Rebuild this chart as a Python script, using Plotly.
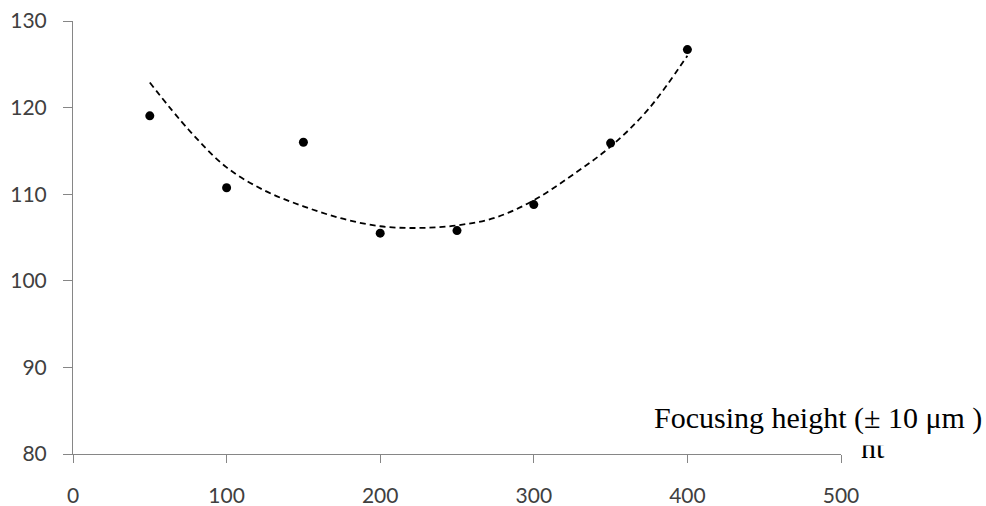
import plotly.graph_objects as go

focus_height = [50, 100, 150, 200, 250, 300, 350, 400]
values = [119.05, 110.75, 116.0, 105.5, 105.8, 108.8, 115.9, 126.7]

# Dashed trend curve as drawn in the reference
trend_x = [50, 75, 100, 125, 150, 175, 200, 225, 250, 275, 300, 325, 350, 375, 400]
trend_y = [122.9, 117.5, 113.1, 110.4, 108.6, 107.2, 106.3, 106.1, 106.4, 107.3, 109.3, 112.2, 115.5, 119.9, 126.0]

x_ticks = [0, 100, 200, 300, 400, 500]
y_ticks = [80, 90, 100, 110, 120, 130]

fig = go.Figure()
fig.add_trace(go.Scatter(x=trend_x, y=trend_y, mode="lines", line_shape="spline",
                         line=dict(color="black", width=1.8, dash="6px,4px"),
                         showlegend=False, hoverinfo="skip"))
fig.add_trace(go.Scatter(x=focus_height, y=values, mode="markers",
                         marker=dict(color="black", size=9),
                         showlegend=False))

tickfont = dict(family="Lato, Carlito, sans-serif", size=21, color="#404040")
fig.update_xaxes(range=[0, 500], tickvals=x_ticks, showgrid=False, zeroline=False,
                 showline=True, linecolor="#868686", linewidth=1,
                 ticks="outside", ticklen=8, tickcolor="#868686",
                 tickfont=tickfont, ticklabelstandoff=15, automargin=False)
fig.update_yaxes(range=[80, 130], tickvals=y_ticks, showgrid=False, zeroline=False,
                 showline=True, linecolor="#868686", linewidth=1,
                 ticks="outside", ticklen=9, tickcolor="#868686",
                 tickfont=tickfont, ticklabelstandoff=12, automargin=False)

serif = dict(family="Liberation Serif, Times New Roman, serif", size=30, color="black")
L, T, W, H = 73, 21, 768, 433
def px(x):
    return (x - L) / W
def py(y):
    return (T + H - y) / H

fig.add_annotation(text="nt", xref="paper", yref="paper", x=px(873), y=py(447),
                   showarrow=False, font=serif, xanchor="center", yanchor="middle")
fig.add_annotation(text=" ", xref="paper", yref="paper", x=px(873), y=py(438),
                   showarrow=False, font=dict(size=8), xanchor="center", yanchor="middle",
                   bgcolor="white", width=40, height=14, borderpad=0)
fig.add_annotation(text="Focusing height (± 10 μm )", xref="paper", yref="paper",
                   x=px(652), y=py(418), showarrow=False, font=serif,
                   xanchor="left", yanchor="middle")

fig.update_layout(width=986, height=506, margin=dict(l=L, r=986 - L - W, t=T, b=506 - T - H),
                  plot_bgcolor="white", paper_bgcolor="white", hovermode=False)
fig.write_html("out.html", config={"displayModeBar": False},
               post_script="document.body.style.margin='0';")
